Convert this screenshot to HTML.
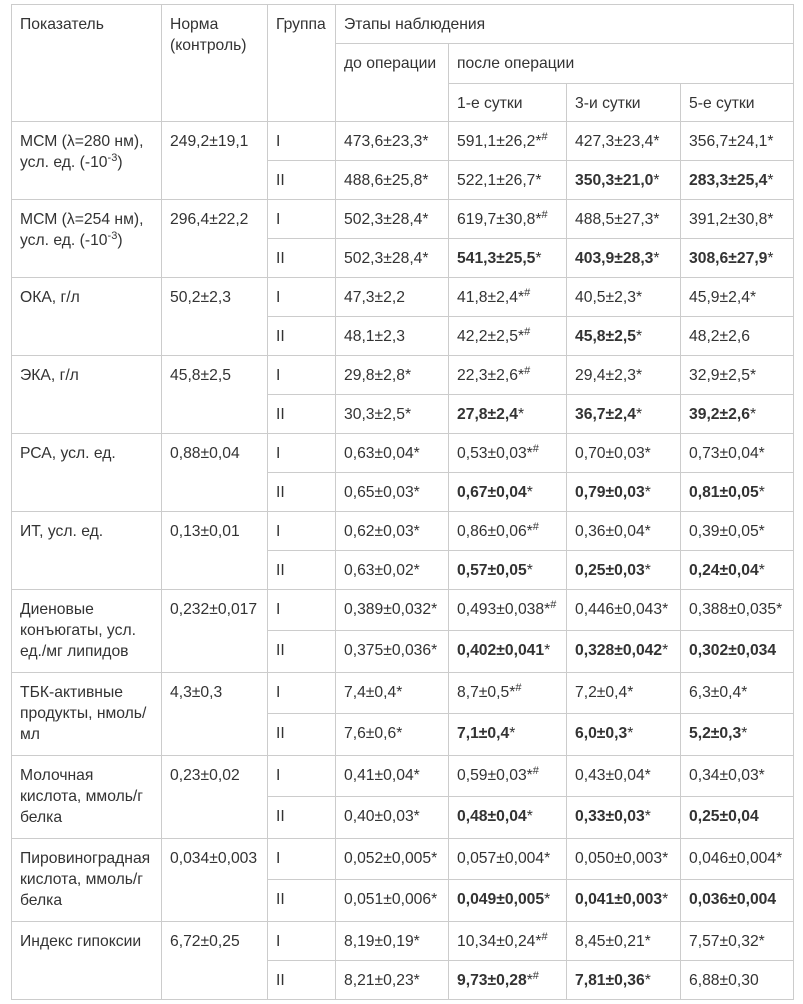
<!DOCTYPE html>
<html><head><meta charset="utf-8"><style>
body{margin:0;background:#fff;}
table{position:absolute;left:11px;top:4px;border-collapse:collapse;table-layout:fixed;width:782px;font-family:"Liberation Sans",Arial,sans-serif;font-size:15.7px;color:#333;line-height:21px;}
td{border:1px solid #ccc;vertical-align:top;padding:9px 2px 0 8px;overflow:hidden;white-space:nowrap;}
sup{font-size:11px;line-height:0;vertical-align:6px;}
b{font-weight:bold;}
</style></head><body>
<table>
<colgroup><col style="width:150px"><col style="width:106px"><col style="width:68px"><col style="width:113px"><col style="width:118px"><col style="width:114px"><col style="width:113px"></colgroup>
<tr style="height:39px"><td rowspan="3">Показатель</td><td rowspan="3">Норма<br>(контроль)</td><td rowspan="3">Группа</td><td colspan="4">Этапы наблюдения</td></tr>
<tr style="height:40px"><td rowspan="2">до операции</td><td colspan="3">после операции</td></tr>
<tr style="height:38px"><td>1-е сутки</td><td>3-и сутки</td><td>5-е сутки</td></tr>

<tr style="height:39px"><td rowspan="2">МСМ (λ=280 нм),<br>усл. ед. (-10<sup>-3</sup>)</td><td rowspan="2">249,2±19,1</td><td>I</td><td>473,6±23,3*</td><td>591,1±26,2*<sup>#</sup></td><td>427,3±23,4*</td><td>356,7±24,1*</td></tr>
<tr style="height:39px"><td>II</td><td>488,6±25,8*</td><td>522,1±26,7*</td><td><b>350,3±21,0</b>*</td><td><b>283,3±25,4</b>*</td></tr>

<tr style="height:39px"><td rowspan="2">МСМ (λ=254 нм),<br>усл. ед. (-10<sup>-3</sup>)</td><td rowspan="2">296,4±22,2</td><td>I</td><td>502,3±28,4*</td><td>619,7±30,8*<sup>#</sup></td><td>488,5±27,3*</td><td>391,2±30,8*</td></tr>
<tr style="height:39px"><td>II</td><td>502,3±28,4*</td><td><b>541,3±25,5</b>*</td><td><b>403,9±28,3</b>*</td><td><b>308,6±27,9</b>*</td></tr>

<tr style="height:39px"><td rowspan="2">ОКА, г/л</td><td rowspan="2">50,2±2,3</td><td>I</td><td>47,3±2,2</td><td>41,8±2,4*<sup>#</sup></td><td>40,5±2,3*</td><td>45,9±2,4*</td></tr>
<tr style="height:39px"><td>II</td><td>48,1±2,3</td><td>42,2±2,5*<sup>#</sup></td><td><b>45,8±2,5</b>*</td><td>48,2±2,6</td></tr>

<tr style="height:39px"><td rowspan="2">ЭКА, г/л</td><td rowspan="2">45,8±2,5</td><td>I</td><td>29,8±2,8*</td><td>22,3±2,6*<sup>#</sup></td><td>29,4±2,3*</td><td>32,9±2,5*</td></tr>
<tr style="height:39px"><td>II</td><td>30,3±2,5*</td><td><b>27,8±2,4</b>*</td><td><b>36,7±2,4</b>*</td><td><b>39,2±2,6</b>*</td></tr>

<tr style="height:39px"><td rowspan="2">РСА, усл. ед.</td><td rowspan="2">0,88±0,04</td><td>I</td><td>0,63±0,04*</td><td>0,53±0,03*<sup>#</sup></td><td>0,70±0,03*</td><td>0,73±0,04*</td></tr>
<tr style="height:39px"><td>II</td><td>0,65±0,03*</td><td><b>0,67±0,04</b>*</td><td><b>0,79±0,03</b>*</td><td><b>0,81±0,05</b>*</td></tr>

<tr style="height:39px"><td rowspan="2">ИТ, усл. ед.</td><td rowspan="2">0,13±0,01</td><td>I</td><td>0,62±0,03*</td><td>0,86±0,06*<sup>#</sup></td><td>0,36±0,04*</td><td>0,39±0,05*</td></tr>
<tr style="height:39px"><td>II</td><td>0,63±0,02*</td><td><b>0,57±0,05</b>*</td><td><b>0,25±0,03</b>*</td><td><b>0,24±0,04</b>*</td></tr>

<tr style="height:41px"><td rowspan="2">Диеновые<br>конъюгаты, усл.<br>ед./мг липидов</td><td rowspan="2">0,232±0,017</td><td>I</td><td>0,389±0,032*</td><td>0,493±0,038*<sup>#</sup></td><td>0,446±0,043*</td><td>0,388±0,035*</td></tr>
<tr style="height:42px"><td>II</td><td>0,375±0,036*</td><td><b>0,402±0,041</b>*</td><td><b>0,328±0,042</b>*</td><td><b>0,302±0,034</b></td></tr>

<tr style="height:41px"><td rowspan="2">ТБК-активные<br>продукты, нмоль/<br>мл</td><td rowspan="2">4,3±0,3</td><td>I</td><td>7,4±0,4*</td><td>8,7±0,5*<sup>#</sup></td><td>7,2±0,4*</td><td>6,3±0,4*</td></tr>
<tr style="height:42px"><td>II</td><td>7,6±0,6*</td><td><b>7,1±0,4</b>*</td><td><b>6,0±0,3</b>*</td><td><b>5,2±0,3</b>*</td></tr>

<tr style="height:41px"><td rowspan="2">Молочная<br>кислота, ммоль/г<br>белка</td><td rowspan="2">0,23±0,02</td><td>I</td><td>0,41±0,04*</td><td>0,59±0,03*<sup>#</sup></td><td>0,43±0,04*</td><td>0,34±0,03*</td></tr>
<tr style="height:42px"><td>II</td><td>0,40±0,03*</td><td><b>0,48±0,04</b>*</td><td><b>0,33±0,03</b>*</td><td><b>0,25±0,04</b></td></tr>

<tr style="height:41px"><td rowspan="2">Пировиноградная<br>кислота, ммоль/г<br>белка</td><td rowspan="2">0,034±0,003</td><td>I</td><td>0,052±0,005*</td><td>0,057±0,004*</td><td>0,050±0,003*</td><td>0,046±0,004*</td></tr>
<tr style="height:42px"><td>II</td><td>0,051±0,006*</td><td><b>0,049±0,005</b>*</td><td><b>0,041±0,003</b>*</td><td><b>0,036±0,004</b></td></tr>

<tr style="height:39px"><td rowspan="2">Индекс гипоксии</td><td rowspan="2">6,72±0,25</td><td>I</td><td>8,19±0,19*</td><td>10,34±0,24*<sup>#</sup></td><td>8,45±0,21*</td><td>7,57±0,32*</td></tr>
<tr style="height:39px"><td>II</td><td>8,21±0,23*</td><td><b>9,73±0,28</b>*<sup>#</sup></td><td><b>7,81±0,36</b>*</td><td>6,88±0,30</td></tr>
</table>
</body></html>
